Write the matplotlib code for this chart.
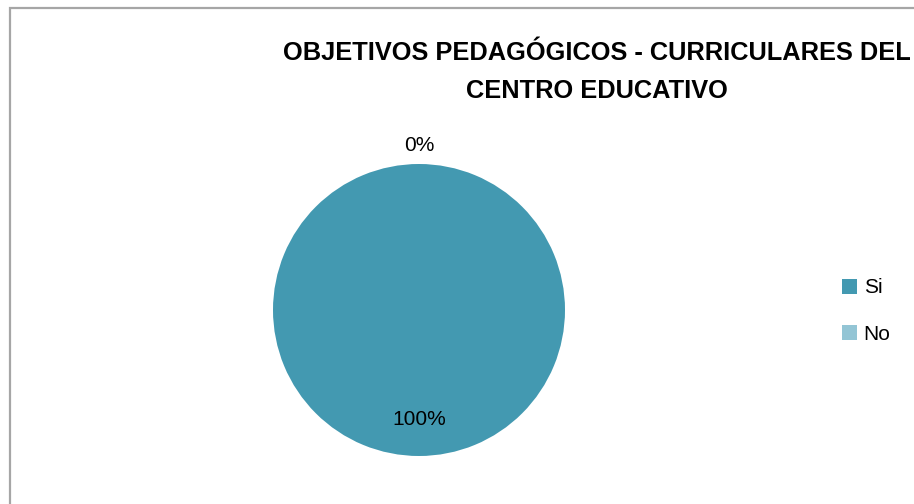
import matplotlib.pyplot as plt
from matplotlib.patches import Rectangle

categories = ["Si", "No"]
values = [100, 0]
colors = ["#4399B1", "#93C5D5"]
title = "OBJETIVOS PEDAGÓGICOS - CURRICULARES DEL\nCENTRO EDUCATIVO"

plt.rcParams['font.family'] = ['Liberation Sans', 'DejaVu Sans']

fig = plt.figure(figsize=(9.14, 5.04), dpi=100)
W, H = 914, 504

# chart border (cut off at right and bottom like the reference)
fig.patches.append(Rectangle((10 / W, -0.1), 1.2, (H - 8) / H + 0.1,
                             transform=fig.transFigure, fill=False,
                             edgecolor="#a6a6a6", linewidth=1.6))

r = 146
cx, cy = 419, 310
ax = fig.add_axes([(cx - r) / W, (H - cy - r) / H, 2 * r / W, 2 * r / H])
wedges, texts, autotexts = ax.pie(values, colors=colors, startangle=90,
                                  counterclock=False, radius=1,
                                  autopct=lambda p: "%d%%" % round(p),
                                  pctdistance=0.75,
                                  textprops={"fontsize": 15})
# zero slice label sits just outside the pie at the top
autotexts[1].set_position((0, 1.13))
ax.set_xlim(-1, 1)
ax.set_ylim(-1, 1)
ax.set_aspect("equal")

fig.text(597 / W, 1 - 72 / H, title, ha="center", va="center",
         fontsize=18.3, fontweight="bold", linespacing=1.75)

fig.legend(wedges, categories, loc="center left",
           bbox_to_anchor=(823 / W, 1 - 311 / H), frameon=False,
           fontsize=15, handlelength=0.75, handleheight=0.75,
           labelspacing=1.3, handletextpad=0.3)

fig.savefig("out.png", dpi=100)
